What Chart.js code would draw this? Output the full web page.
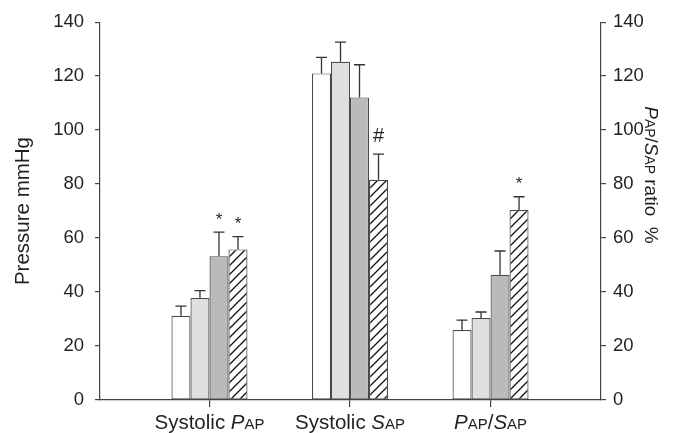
<!DOCTYPE html>
<html>
<head>
<meta charset="utf-8">
<script src="https://cdn.jsdelivr.net/npm/chart.js@4"></script>
<style>
  html, body { margin: 0; padding: 0; background: #fff; }
  #wrap { width: 676px; height: 433px; }
</style>
</head>
<body>
<div id="wrap"><canvas id="chart"></canvas></div>
<script>
// categories (x positions 0,1,2)
const categories = ["Systolic PAP", "Systolic SAP", "PAP/SAP"];
const seriesNames = ["Group 1", "Group 2", "Group 3", "Group 4"];

// bar heights, one array per series (left axis mmHg / right axis %)
const series1 = [31.2, 121.0, 25.9];
const series2 = [37.8, 125.3, 30.4];
const series3 = [53.3, 112.1, 46.4];
const series4 = [55.8, 81.6, 70.4];

// upward error (SD) per series
const err1 = [3.6, 5.9, 3.7];
const err2 = [2.7, 7.3, 2.2];
const err3 = [8.9, 12.1, 8.8];
const err4 = [4.7, 9.5, 4.9];

// significance marks per series
const marks1 = ["", "", ""];
const marks2 = ["", "", ""];
const marks3 = ["*", "", ""];
const marks4 = ["*", "#", "*"];

const yTicks = [0, 20, 40, 60, 80, 100, 120, 140];

const FONT = "'Liberation Sans', Arial, sans-serif";
const INK = "#231f20";

function hatch() {
  const s = 9;
  const c = document.createElement("canvas");
  c.width = s; c.height = s;
  const g = c.getContext("2d");
  g.fillStyle = "#fff";
  g.fillRect(0, 0, s, s);
  g.strokeStyle = "#111";
  g.lineWidth = 1.3;
  g.beginPath();
  g.moveTo(-1, s + 1); g.lineTo(s + 1, -1);
  g.moveTo(-2, 2); g.lineTo(2, -2);
  g.moveTo(s - 2, s + 2); g.lineTo(s + 2, s - 2);
  g.stroke();
  return g.createPattern(c, "repeat");
}

const ctx = document.getElementById("chart").getContext("2d");

const allValues = [series1, series2, series3, series4];
const allErrs = [err1, err2, err3, err4];
const allMarks = [marks1, marks2, marks3, marks4];
const fills = ["#ffffff", "#dedfe1", "#b9babc", hatch()];

const datasets = allValues.map((vals, k) => ({
  label: seriesNames[k],
  data: vals.map((v, i) => ({ x: i, y: v })),
  errs: allErrs[k],
  marks: allMarks[k],
  backgroundColor: fills[k],
  borderColor: "#4a4a4a",
  borderWidth: 1.2,
  borderSkipped: false,
  barPercentage: 1,
  categoryPercentage: 0.541
}));

// rich text pieces: [text, style] style: n normal, i italic, s small
const labelParts = [
  [["Systolic ", "n"], ["P", "i"], ["AP", "s"]],
  [["Systolic ", "n"], ["S", "i"], ["AP", "s"]],
  [["P", "i"], ["AP", "s"], ["/", "n"], ["S", "i"], ["AP", "s"]]
];
const rightTitleParts = [["P", "i"], ["AP", "s"], ["/", "n"], ["S", "i"], ["AP", "s"], [" ratio  %", "n"]];

function fontFor(style, size) {
  if (style === "i") return "italic " + size + "px " + FONT;
  if (style === "s") return (size * 0.73) + "px " + FONT;
  return size + "px " + FONT;
}

function drawRich(c, parts, cx, baseline, size) {
  let total = 0;
  parts.forEach(p => { c.font = fontFor(p[1], size); total += c.measureText(p[0]).width; });
  let x = cx - total / 2;
  c.textAlign = "left";
  c.textBaseline = "alphabetic";
  parts.forEach(p => {
    c.font = fontFor(p[1], size);
    c.fillText(p[0], x, baseline);
    x += c.measureText(p[0]).width;
  });
}

const extras = {
  id: "extras",
  afterDatasetsDraw(chart) {
    const c = chart.ctx;
    const y = chart.scales.y;
    c.save();
    chart.data.datasets.forEach((ds, k) => {
      const meta = chart.getDatasetMeta(k);
      meta.data.forEach((bar, i) => {
        const top = ds.data[i].y + ds.errs[i];
        const py = y.getPixelForValue(top);
        c.strokeStyle = "#333";
        c.lineWidth = 1.3;
        c.beginPath();
        c.moveTo(bar.x, bar.y);
        c.lineTo(bar.x, py);
        c.moveTo(bar.x - 5.5, py);
        c.lineTo(bar.x + 5.5, py);
        c.stroke();
        const m = ds.marks[i];
        if (m) {
          c.fillStyle = INK;
          c.textAlign = "center";
          c.textBaseline = "middle";
          c.font = (m === "#" ? "20px " : "17px ") + FONT;
          c.fillText(m, bar.x, py - (m === "#" ? 18 : 12));
        }
      });
    });
    c.restore();
  },
  afterDraw(chart) {
    const c = chart.ctx;
    const x = chart.scales.x;
    c.save();
    c.fillStyle = INK;
    categories.forEach((_, i) => {
      drawRich(c, labelParts[i], x.getPixelForValue(i), 429, 20.5);
    });
    // right axis title, reading top to bottom
    c.translate(652, 175);
    c.rotate(Math.PI / 2);
    drawRich(c, rightTitleParts, 0, 7, 19);
    c.restore();
  }
};

const yAxisBase = {
  min: 0,
  max: 140,
  afterBuildTicks: s => { s.ticks = yTicks.map(v => ({ value: v })); },
  border: { display: true, color: "#444", width: 1.2 },
  grid: { drawOnChartArea: false, drawTicks: true, tickLength: 5, color: "#444", lineWidth: 1.2 },
  ticks: { color: INK, font: { family: FONT, size: 18.5 } }
};

new Chart(ctx, {
  type: "bar",
  data: { datasets },
  options: {
    responsive: true,
    maintainAspectRatio: false,
    animation: false,
    layout: { padding: { top: 22, bottom: 0, left: 0, right: 0 } },
    plugins: { legend: { display: false }, tooltip: { enabled: false } },
    scales: {
      x: {
        type: "linear",
        min: -0.779,
        max: 2.786,
        offset: false,
        afterBuildTicks: s => { s.ticks = [{ value: 0 }, { value: 1 }, { value: 2 }]; },
        afterFit: s => { s.height = 33; },
        border: { display: true, color: "#444", width: 1.2 },
        grid: { offset: false, drawOnChartArea: false, drawTicks: true, tickLength: 7, color: "#444", lineWidth: 1.2 },
        ticks: { display: false }
      },
      y: Object.assign({}, yAxisBase, {
        position: "left",
        afterFit: s => { s.width = 100; },
        ticks: Object.assign({}, yAxisBase.ticks, { padding: 11 }),
        title: { display: true, text: "Pressure mmHg", color: INK, font: { family: FONT, size: 20.5 }, padding: { top: 11, bottom: 0 } }
      }),
      y2: Object.assign({}, yAxisBase, {
        position: "right",
        afterFit: s => { s.width = 75; },
        ticks: Object.assign({}, yAxisBase.ticks, { padding: 7 })
      })
    }
  },
  plugins: [extras]
});
</script>
</body>
</html>
